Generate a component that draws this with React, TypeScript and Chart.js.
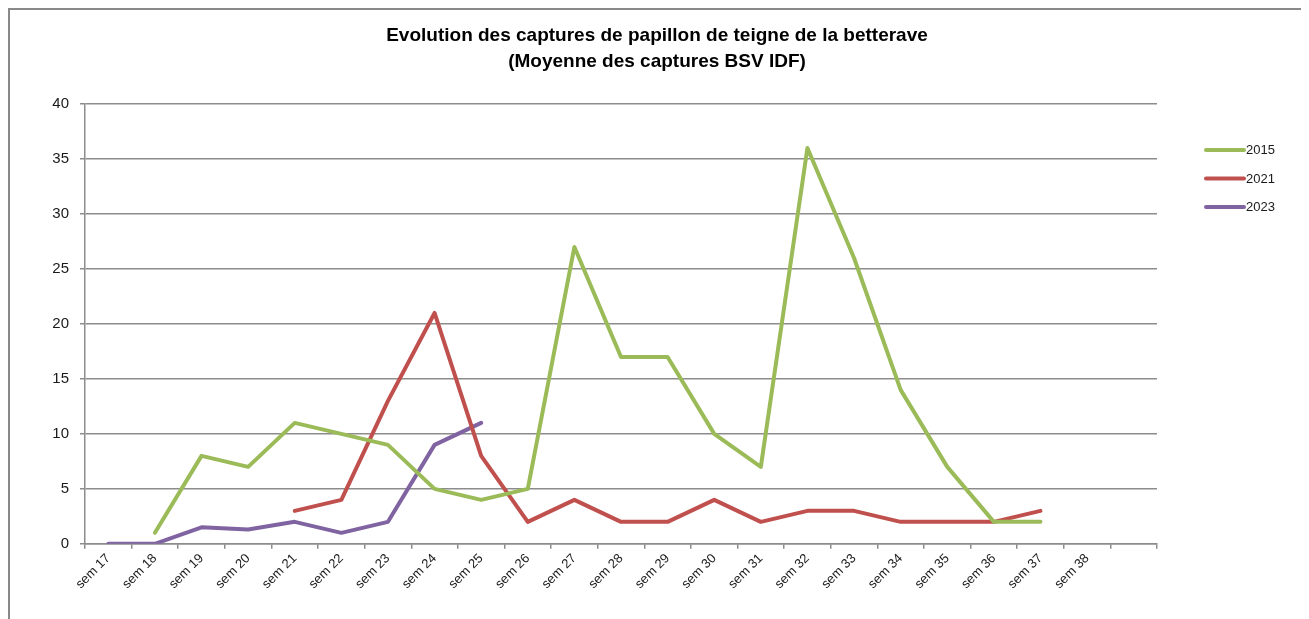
import React, { useEffect, useRef } from 'react';
import { Chart, registerables } from 'chart.js';

Chart.register(...registerables);

const titleLines = [
  'Evolution des captures de papillon de teigne de la betterave',
  '(Moyenne des captures BSV IDF)',
];

const categories = [
  'sem 17', 'sem 18', 'sem 19', 'sem 20', 'sem 21', 'sem 22', 'sem 23', 'sem 24',
  'sem 25', 'sem 26', 'sem 27', 'sem 28', 'sem 29', 'sem 30', 'sem 31', 'sem 32',
  'sem 33', 'sem 34', 'sem 35', 'sem 36', 'sem 37', 'sem 38', '',
];

const values2015 = [
  null, 1, 8, 7, 11, 10, 9, 5, 4, 5, 27, 17, 17, 10, 7, 36, 26, 14, 7, 2, 2, null, null,
];
const values2021 = [
  null, null, null, null, 3, 4, 13, 21, 8, 2, 4, 2, 2, 4, 2, 3, 3, 2, 2, 2, 3, null, null,
];
const values2023 = [
  0, 0, 1.5, 1.3, 2, 1, 2, 9, 11, null, null, null, null, null, null, null, null, null, null, null, null, null, null,
];

const seriesNames = ['2015', '2021', '2023'];
const seriesColors = ['#9BBB59', '#C0504D', '#8064A2'];

const yTicks = { min: 0, max: 40, step: 5 };

const GRID = '#8c8c8c';
const FONT = "'Liberation Sans', Arial, sans-serif";

const sideLegend = {
  id: 'sideLegend',
  afterDraw(chart: any) {
    const { ctx, chartArea } = chart;
    ctx.save();
    chart.data.datasets.forEach((ds: any, i: number) => {
      const y = chartArea.top + 46 + i * 28.5;
      const x0 = chartArea.right + 49;
      ctx.strokeStyle = ds.borderColor;
      ctx.lineWidth = 4;
      ctx.lineCap = 'round';
      ctx.beginPath();
      ctx.moveTo(x0, y);
      ctx.lineTo(x0 + 38, y);
      ctx.stroke();
      ctx.fillStyle = '#1a1a1a';
      ctx.font = `13px ${FONT}`;
      ctx.textBaseline = 'middle';
      ctx.textAlign = 'left';
      ctx.fillText(ds.label, x0 + 40, y + 0.5);
    });
    ctx.restore();
  },
};

export default function App() {
  const ref = useRef<HTMLCanvasElement | null>(null);

  useEffect(() => {
    document.body.style.overflow = 'hidden';
    const canvas = ref.current;
    if (!canvas) return;
    const seriesValues = [values2015, values2021, values2023];
    const chart = new Chart(canvas, {
      type: 'line',
      data: {
        labels: categories,
        datasets: seriesNames.map((name, i) => ({
          label: name,
          data: seriesValues[i],
          borderColor: seriesColors[i],
          backgroundColor: seriesColors[i],
          borderWidth: 4,
          pointRadius: 0,
          pointHoverRadius: 0,
          tension: 0,
          spanGaps: false,
          borderCapStyle: 'round',
          borderJoinStyle: 'round',
        })),
      },
      options: {
        responsive: false,
        animation: false,
        layout: { padding: { left: 0, right: 0, top: 0, bottom: 56 } },
        plugins: {
          legend: { display: false },
          tooltip: { enabled: false },
          title: {
            display: true,
            text: titleLines,
            color: '#000',
            font: { family: FONT, size: 19, weight: 'bold', lineHeight: 1.37 },
            padding: { top: 13, bottom: 29 },
          },
        },
        scales: {
          x: {
            type: 'category',
            offset: true,
            grid: {
              display: true,
              offset: true,
              drawOnChartArea: false,
              drawTicks: true,
              tickLength: 5,
              color: GRID,
              lineWidth: 1.5,
            },
            border: { display: true, color: GRID, width: 1.5 },
            ticks: {
              autoSkip: false,
              minRotation: 45,
              maxRotation: 45,
              color: '#1a1a1a',
              font: { family: FONT, size: 13 },
              padding: 2,
            },
          },
          y: {
            min: yTicks.min,
            max: yTicks.max,
            afterFit: (scale: any) => {
              scale.width = 75;
            },
            grid: {
              color: GRID,
              lineWidth: 1.5,
              drawTicks: true,
              tickLength: 5,
            },
            border: { display: true, color: GRID, width: 1.5 },
            ticks: {
              stepSize: yTicks.step,
              color: '#1a1a1a',
              font: { family: FONT, size: 15 },
              padding: 11,
            },
          },
          legendSpace: {
            type: 'linear',
            position: 'right',
            display: true,
            afterFit: (scale: any) => {
              scale.width = 147;
            },
            grid: { display: false, drawOnChartArea: false, drawTicks: false },
            border: { display: false },
            ticks: { display: false },
          },
        },
      },
      plugins: [sideLegend],
    });
    return () => chart.destroy();
  }, []);

  return (
    <div
      style={{
        border: '2px solid #898989',
        width: 1294,
        height: 640,
        background: '#fff',
      }}
    >
      <canvas ref={ref} width={1294} height={640} style={{ display: 'block' }} />
    </div>
  );
}
